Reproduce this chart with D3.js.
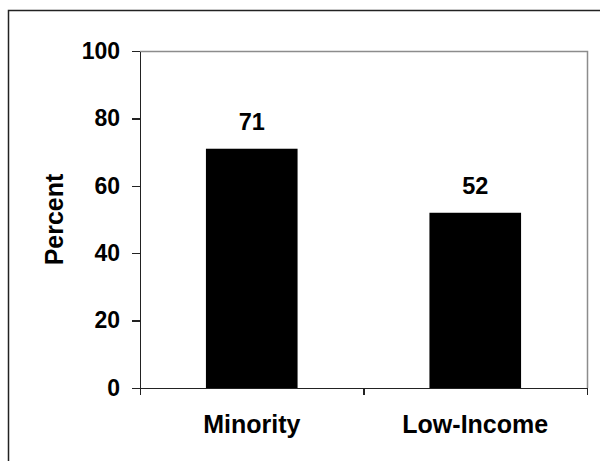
<!DOCTYPE html>
<html>
<head>
<meta charset="utf-8">
<script src="https://cdn.jsdelivr.net/npm/d3@7"></script>
<style>
	body { margin: 0; background: #fff; }
	svg { display: block; }
	text { font-family: 'Liberation Sans', Arial, sans-serif; font-weight: bold; fill: #000; }
	.axis path, .axis line { stroke: #222; stroke-width: 1.3px; shape-rendering: crispEdges; }
	.axis text { font-size: 23px; font-family: 'Liberation Sans', Arial, sans-serif; font-weight: bold; }
</style>
</head>
<body>
<div class="bar-chart"></div>
<script>
var categories = ['Minority', 'Low-Income'];
var values = [71, 52];
var yTicks = [0, 20, 40, 60, 80, 100];

initBarChart();

// bar chart init
function initBarChart() {
	var margin = {
		top: 51,
		right: 13,
		bottom: 73,
		left: 140
	};
	var fullWidth = 600;
	var fullHeight = 461;
	var width = fullWidth - margin.left - margin.right;
	var height = fullHeight - margin.top - margin.bottom;

	var svg = d3.select('.bar-chart')
		.append('svg')
		.attr('width', fullWidth)
		.attr('height', fullHeight);

	// outer frame
	svg.append('rect')
		.attr('x', 8.5)
		.attr('y', 10.5)
		.attr('width', fullWidth)
		.attr('height', fullHeight)
		.attr('fill', 'none')
		.attr('stroke', '#222')
		.attr('stroke-width', 1.5);

	var wrapper = svg.append('g')
		.attr('transform', 'translate(' + margin.left + ',' + margin.top + ')');

	var xScale = d3.scaleBand()
		.domain(categories)
		.range([0, width])
		.paddingInner(0.59)
		.paddingOuter(0.295);

	var edgeScale = d3.scaleLinear()
		.domain([0, categories.length])
		.range([0, width]);

	var yScale = d3.scaleLinear()
		.domain([0, 100])
		.range([height, 0]);

	// plot area frame (top and right)
	wrapper.append('path')
		.attr('d', 'M0,0.5H' + (width + 0.5) + 'V' + height)
		.attr('fill', 'none')
		.attr('stroke', '#8c8c8c')
		.attr('stroke-width', 1.5);

	wrapper.selectAll('.bar')
		.data(values)
		.enter()
		.append('rect')
		.attr('class', 'bar')
		.attr('x', function(d, i) {
			return xScale(categories[i]);
		})
		.attr('y', function(d) {
			return yScale(d);
		})
		.attr('width', xScale.bandwidth())
		.attr('height', function(d) {
			return height - yScale(d);
		})
		.attr('fill', '#000');

	wrapper.selectAll('.value')
		.data(values)
		.enter()
		.append('text')
		.attr('class', 'value')
		.attr('x', function(d, i) {
			return xScale(categories[i]) + xScale.bandwidth() / 2;
		})
		.attr('y', function(d) {
			return yScale(d) - 18.5;
		})
		.attr('text-anchor', 'middle')
		.style('font-size', '23.5px')
		.text(function(d) {
			return d;
		});

	// tick marks between categories
	wrapper.append('g')
		.attr('class', 'axis x-edges')
		.attr('transform', 'translate(0,' + height + ')')
		.call(d3.axisBottom(edgeScale).tickValues(d3.range(categories.length + 1)).tickFormat('').tickSizeInner(7).tickSizeOuter(0));

	// category labels
	var xAxis = wrapper.append('g')
		.attr('class', 'axis x-axis')
		.attr('transform', 'translate(0,' + height + ')')
		.call(d3.axisBottom(xScale).tickSize(0).tickPadding(27));

	xAxis.select('.domain').remove();
	xAxis.selectAll('text').style('font-size', '25px');

	wrapper.append('g')
		.attr('class', 'axis y-axis')
		.call(d3.axisLeft(yScale).tickValues(yTicks).tickSizeInner(8).tickSizeOuter(0).tickPadding(12));

	svg.append('text')
		.attr('transform', 'translate(62.5,' + (margin.top + height / 2) + ') rotate(-90)')
		.attr('text-anchor', 'middle')
		.style('font-size', '25px')
		.text('Percent');
}
</script>
</body>
</html>
